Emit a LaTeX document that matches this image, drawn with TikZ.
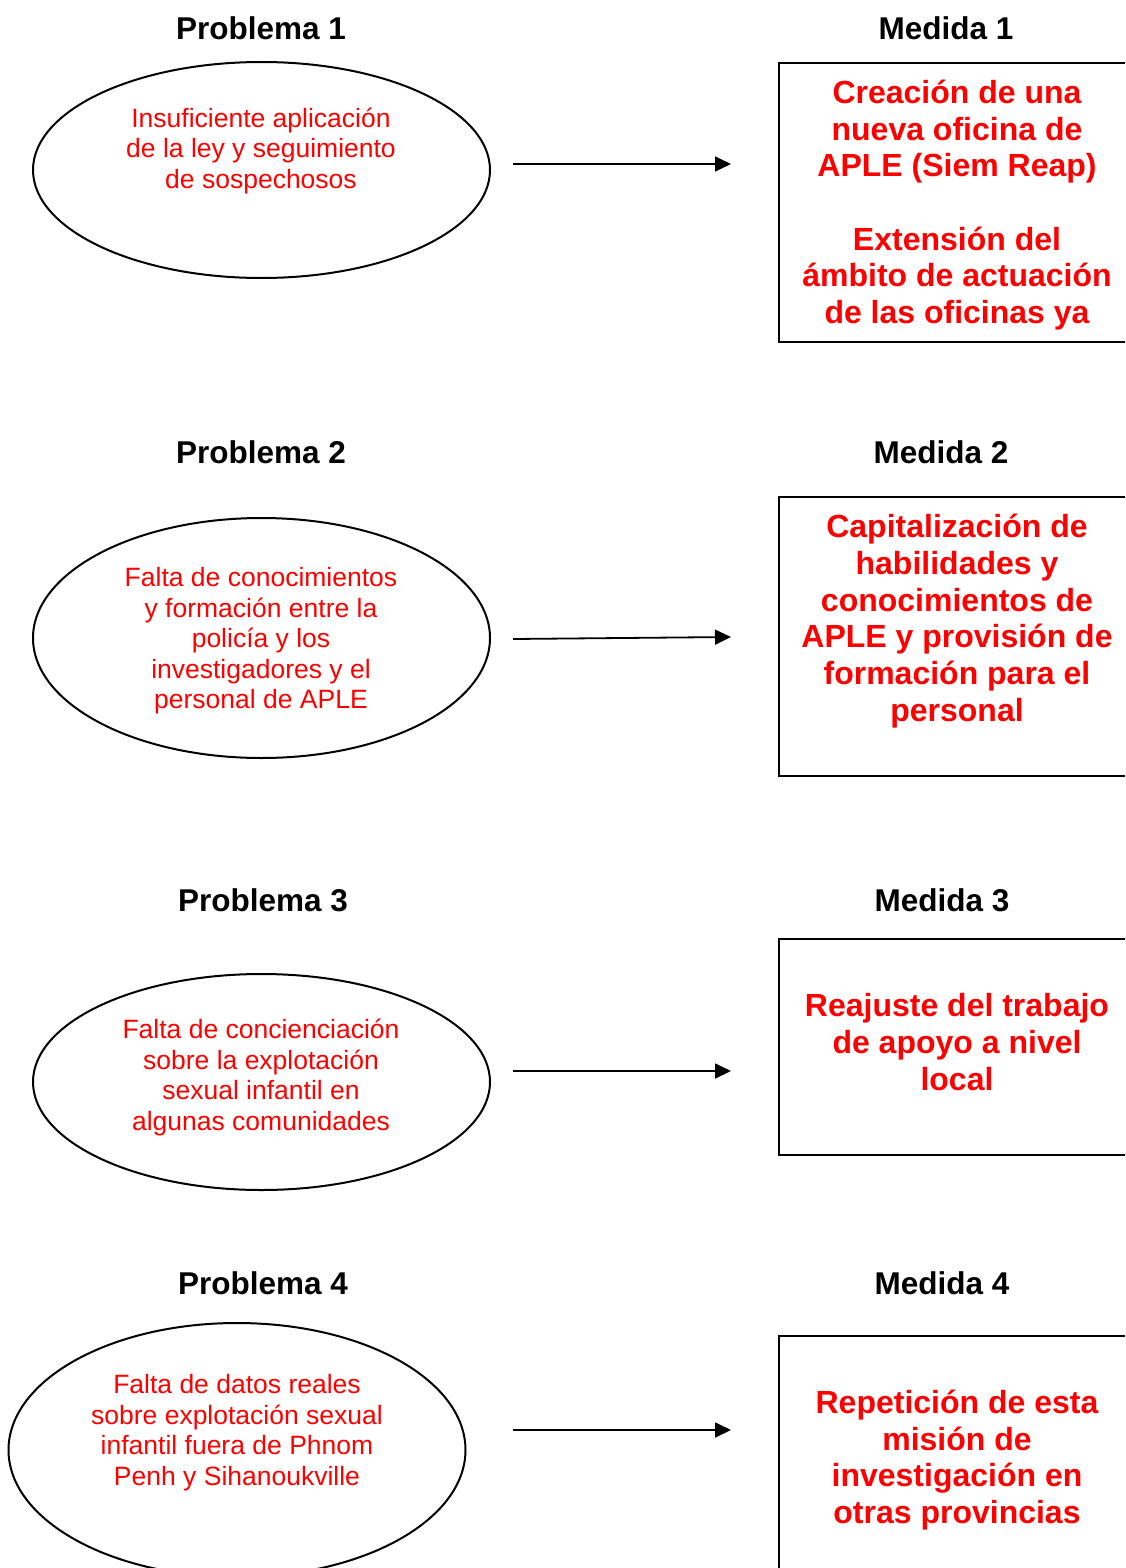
\documentclass[tikz,border=0pt]{standalone}
\usepackage{fontspec}
\setmainfont{Liberation Sans}
\usetikzlibrary{shapes.geometric,arrows.meta}
\definecolor{txtred}{RGB}{255,0,0}
\begin{document}
\begin{tikzpicture}[x=1pt,y=-1pt,
  prob/.style={draw, ellipse, line width=2pt, inner sep=0pt, minimum width=457pt},
  medbox/.style={draw, rectangle, line width=2pt, inner sep=0pt, anchor=north west, minimum width=362pt},
  title/.style={font=\bfseries\fontsize{31.5}{36}\selectfont, inner sep=0pt},
  ptext/.style={text=txtred, align=center, font=\fontsize{26.5}{30.5}\selectfont, inner sep=0pt},
  mtext/.style={text=txtred, align=center, font=\bfseries\fontsize{32}{36.7}\selectfont, inner sep=0pt},
  arr/.style={line width=1.8pt, -{Triangle[length=16pt,width=15pt]}}
]
\useasboundingbox (0,0) rectangle (1125,1568);
\clip (0,0) rectangle (1125,1568);

% titles
\node[title] (p1t) at (261,28) {Problema 1};
\node[title] (m1t) at (946,28) {Medida 1};
\node[title] (p2t) at (261,452) {Problema 2};
\node[title] (m2t) at (941,452) {Medida 2};
\node[title] (p3t) at (263,900) {Problema 3};
\node[title] (m3t) at (942,900) {Medida 3};
\node[title] (p4t) at (263,1283) {Problema 4};
\node[title] (m4t) at (942,1283) {Medida 4};

% ellipses
\node[prob, minimum height=216pt] (e1) at (261.5,170) {};
\node[prob, minimum height=240pt] (e2) at (261.5,638) {};
\node[prob, minimum height=216pt] (e3) at (261.5,1082) {};
\node[prob, minimum height=254pt] (e4) at (237,1450) {};

\node[ptext] (e1t) at (261,150.5) {Insuficiente aplicación\\de la ley y seguimiento\\de sospechosos};
\node[ptext] (e2t) at (261,641) {Falta de conocimientos\\y formación entre la\\policía y los\\investigadores y el\\personal de APLE};
\node[ptext] (e3t) at (261,1077.5) {Falta de concienciación\\sobre la explotación\\sexual infantil en\\algunas comunidades};
\node[ptext] (e4t) at (237,1432.5) {Falta de datos reales\\sobre explotación sexual\\infantil fuera de Phnom\\Penh y Sihanoukville};

% boxes
\node[medbox, minimum height=279pt] (b1) at (777.5,62) {};
\node[medbox, minimum height=279pt] (b2) at (777.5,496) {};
\node[medbox, minimum height=216pt] (b3) at (777.5,938) {};
\node[medbox, minimum height=260pt] (b4) at (777.5,1335) {};

\node[mtext] (b1t) at (957,205) {Creación de una\\nueva oficina de\\APLE (Siem Reap)\\[36.7pt]Extensión del\\ámbito de actuación\\de las oficinas ya};
\node[mtext] (b2t) at (957,621) {Capitalización de\\habilidades y\\conocimientos de\\APLE y provisión de\\formación para el\\personal};
\node[mtext] (b3t) at (957,1042) {Reajuste del trabajo\\de apoyo a nivel\\local};
\node[mtext] (b4t) at (957,1460) {Repetición de esta\\misión de\\investigación en\\otras provincias};

% arrows
\coordinate (a1s) at (513,164); \coordinate (a1e) at (731,164);
\coordinate (a2s) at (513,639); \coordinate (a2e) at (731,637);
\coordinate (a3s) at (513,1071); \coordinate (a3e) at (731,1071);
\coordinate (a4s) at (513,1430); \coordinate (a4e) at (731,1430);
\draw[arr] (a1s) -- (a1e);
\draw[arr] (a2s) -- (a2e);
\draw[arr] (a3s) -- (a3e);
\draw[arr] (a4s) -- (a4e);
\end{tikzpicture}
\end{document}
